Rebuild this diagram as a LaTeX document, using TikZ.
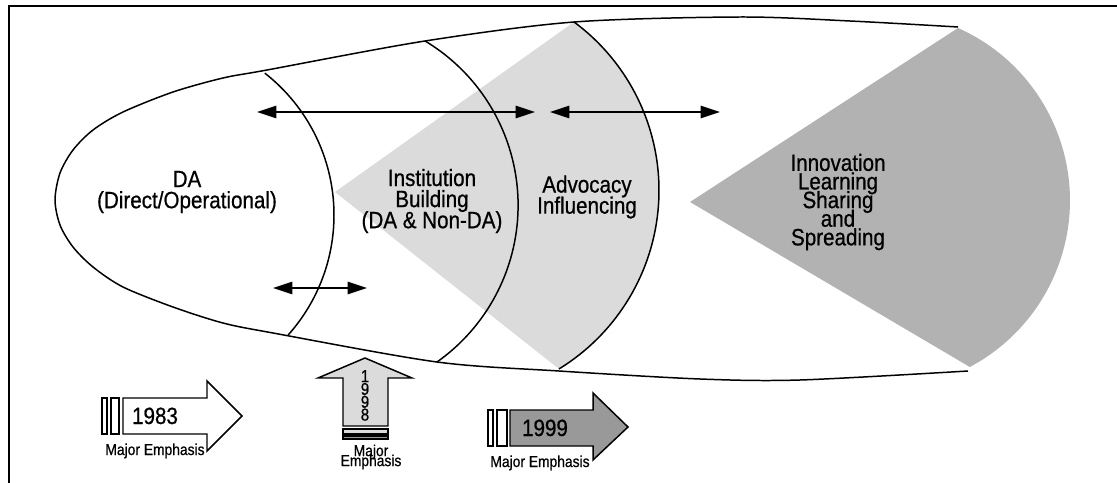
\documentclass[tikz,border=0pt]{standalone}
\usepackage{fontspec}
\setmainfont{Liberation Sans}[FakeStretch=0.875, FakeBold=0.7]
\usetikzlibrary{arrows.meta}
\definecolor{lightshade}{gray}{0.86}
\definecolor{darkshade}{gray}{0.70}
\definecolor{midshade}{gray}{0.60}
\newcommand\tightlines{\lineskiplimit=-\maxdimen}
\begin{document}
\begin{tikzpicture}[x=0.02cm, y=-0.02cm, line width=0.85pt,
  both/.style={{Triangle[length=11pt,width=7pt]}-{Triangle[length=11pt,width=7pt]}},
  big/.style={font=\fontsize{13.4}{12}\selectfont\tightlines, align=center, inner sep=0pt},
  small/.style={font=\fontsize{9}{5.7}\selectfont\tightlines, align=center, inner sep=0pt}]
\useasboundingbox (0,0) rectangle (1117,483);
% frame
\draw[line width=1.4pt] (9,495) -- (9,6) -- (1130,6);
% shaded sectors
\fill[lightshade] (335,192) -- (574,22) arc[start angle=-53.5, end angle=58.5, radius=209.4] -- cycle;
\fill[darkshade] (690,202) -- (958,28) arc[start angle=-66, end angle=62, radius=188.7] -- cycle;
% outer curve
\draw plot[smooth, tension=0.5] coordinates {(958,27) (850,21) (740,17) (574,22) (425,41) (267,70) (223,78) (173,92) (123,112) (93,130) (73,150) (60,173) (55,200) (60,225) (73,247) (93,267) (123,287) (173,307) (223,323) (273,333) (437,362) (559,371) (700,379) (800,380) (968,371)};
% boundaries
\foreach \cx/\cy/\r/\a/\b in {154/215/180/-52/41.8, 326.3/205.4/191.8/-59/54.7, 449.6/190.4/209.4/-53.5/58.5}
  \draw (\cx,\cy) ++(\a:\r) arc[start angle=\a, end angle=\b, radius=\r];
% labels
\node[big] (da) at (187,192) {DA\\(Direct/Operational)};
\node[big] (ib) at (432,201) {Institution\\Building\\(DA \& Non-DA)};
\node[big] (adv) at (587,197) {Advocacy\\Influencing};
\node[big, font=\fontsize{13.4}{10.6}\selectfont\tightlines] (inn) at (838,202) {Innovation\\Learning\\Sharing\\and\\Spreading};
% double arrows
\coordinate (ibL) at (257,112);
\coordinate (ibR) at (535,112);
\coordinate (advL) at (550,112);
\coordinate (advR) at (720,112);
\coordinate (daL) at (273,288);
\coordinate (daR) at (367,288);
\draw[both] (ibL) -- (ibR);
\draw[both] (advL) -- (advR);
\draw[both] (daL) -- (daR);
% 1983
\draw[fill=white] (123,398) -- (207,398) -- (207,381) -- (242,416) -- (207,451) -- (207,434) -- (123,434) -- cycle;
\foreach \xa/\xb in {102/107,111/119}
  \draw (\xa,398) rectangle (\xb,434);
\node[big, anchor=base] (y83) at (155,424) {1983};
\node[small, anchor=base] (me83) at (155,455) {Major Emphasis};
% 1998
\draw[fill=lightshade] (343,426) -- (343,378) -- (318,378) -- (365,358) -- (412,378) -- (388,378) -- (388,426) -- cycle;
\draw[fill=lightshade] (343,429) rectangle (388,434);
\draw[fill=midshade] (343,436) rectangle (388,439);
\node[font=\fontsize{9.8}{7.3}\selectfont\tightlines, align=center, inner sep=0pt] (y98) at (365,395.5) {1\\9\\9\\8};
\node[small] (me98) at (371,457) {Major\\Emphasis};
% 1999
\draw[fill=midshade] (510,410) -- (593,410) -- (593,393) -- (628,427) -- (593,460) -- (593,446) -- (510,446) -- cycle;
\foreach \xa/\xb in {488/493,497/507}
  \draw (\xa,410) rectangle (\xb,446);
\node[big, anchor=base] (y99) at (545,436) {1999};
\node[small, anchor=base] (me99) at (540,467) {Major Emphasis};
\end{tikzpicture}
\end{document}
